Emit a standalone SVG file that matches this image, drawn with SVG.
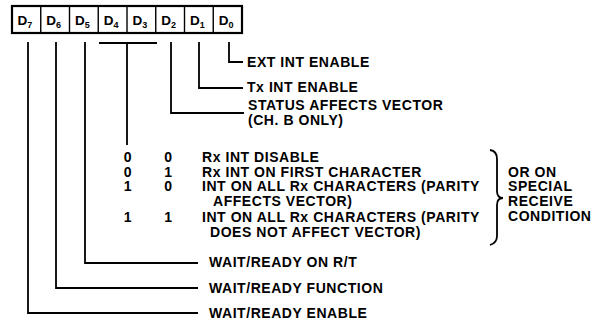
<svg xmlns="http://www.w3.org/2000/svg" width="604" height="320" viewBox="0 0 604 320">
<style>
text{font-family:"Liberation Sans",Arial,Helvetica,sans-serif;font-weight:bold;fill:#000}
.t{font-size:14px;letter-spacing:0.55px}
.d{font-size:13.5px}
.s{font-size:9px}
.ln{fill:none;stroke:#000;stroke-width:1.8}
.box{fill:#fff;stroke:#000;stroke-width:2.2}
.div{stroke:#000;stroke-width:1.4}
</style>
<rect width="604" height="320" fill="#fff"/>
<g id="register">
<rect class="box" x="12" y="6" width="230" height="27"/>
<line class="div" x1="40.75" y1="6" x2="40.75" y2="33"/>
<line class="div" x1="69.5" y1="6" x2="69.5" y2="33"/>
<line class="div" x1="98.25" y1="6" x2="98.25" y2="33"/>
<line class="div" x1="127" y1="6" x2="127" y2="33"/>
<line class="div" x1="155.75" y1="6" x2="155.75" y2="33"/>
<line class="div" x1="184.5" y1="6" x2="184.5" y2="33"/>
<line class="div" x1="213.25" y1="6" x2="213.25" y2="33"/>
<text class="d" x="17.5" y="25">D<tspan class="s" dy="3">7</tspan></text>
<text class="d" x="46.25" y="25">D<tspan class="s" dy="3">6</tspan></text>
<text class="d" x="75" y="25">D<tspan class="s" dy="3">5</tspan></text>
<text class="d" x="103.75" y="25">D<tspan class="s" dy="3">4</tspan></text>
<text class="d" x="132.5" y="25">D<tspan class="s" dy="3">3</tspan></text>
<text class="d" x="161.25" y="25">D<tspan class="s" dy="3">2</tspan></text>
<text class="d" x="190" y="25">D<tspan class="s" dy="3">1</tspan></text>
<text class="d" x="218.75" y="25">D<tspan class="s" dy="3">0</tspan></text>
</g>
<g id="connectors">
<path class="ln" d="M229 42 V62 H243"/>
<path class="ln" d="M199 42 V88 H243"/>
<path class="ln" d="M171 42 V113 H244"/>
<path class="ln" d="M99 43 H157 M127 43 V145"/>
<path class="ln" d="M85 42 V263 H198"/>
<path class="ln" d="M56 42 V288 H198"/>
<path class="ln" d="M28 42 V313 H198"/>
<path class="ln" d="M490 150 Q497 151 497 159 V191 Q497 198 503 198 Q497 198 497 205 V236 Q497 243 490 245"/>
</g>
<g id="d0-label"><text class="t" x="247" y="67">EXT INT ENABLE</text></g>
<g id="d1-label"><text class="t" x="247" y="92">Tx INT ENABLE</text></g>
<g id="d2-label">
<text class="t" x="248" y="110">STATUS AFFECTS VECTOR</text>
<text class="t" x="248" y="125">(CH. B ONLY)</text>
</g>
<g id="d4d3-table">
<text class="t" x="128" y="162" text-anchor="middle">0</text>
<text class="t" x="168.5" y="162" text-anchor="middle">0</text>
<text class="t" x="202" y="162">Rx INT DISABLE</text>
<text class="t" x="128" y="176.5" text-anchor="middle">0</text>
<text class="t" x="168.5" y="176.5" text-anchor="middle">1</text>
<text class="t" x="202" y="176.5">Rx INT ON FIRST CHARACTER</text>
<text class="t" x="128" y="191" text-anchor="middle">1</text>
<text class="t" x="168.5" y="191" text-anchor="middle">0</text>
<text class="t" x="202" y="191">INT ON ALL Rx CHARACTERS (PARITY</text>
<text class="t" x="213" y="205.5">AFFECTS VECTOR)</text>
<text class="t" x="128" y="222" text-anchor="middle">1</text>
<text class="t" x="168.5" y="222" text-anchor="middle">1</text>
<text class="t" x="202" y="222">INT ON ALL Rx CHARACTERS (PARITY</text>
<text class="t" x="210" y="236.5">DOES NOT AFFECT VECTOR)</text>
</g>
<g id="special-receive">
<text class="t" x="508" y="176.5">OR ON</text>
<text class="t" x="508" y="191">SPECIAL</text>
<text class="t" x="508" y="206">RECEIVE</text>
<text class="t" x="508" y="221">CONDITION</text>
</g>
<g id="d5-label"><text class="t" x="209" y="267">WAIT/READY ON R/T</text></g>
<g id="d6-label"><text class="t" x="209" y="293">WAIT/READY FUNCTION</text></g>
<g id="d7-label"><text class="t" x="209" y="318">WAIT/READY ENABLE</text></g>
</svg>
